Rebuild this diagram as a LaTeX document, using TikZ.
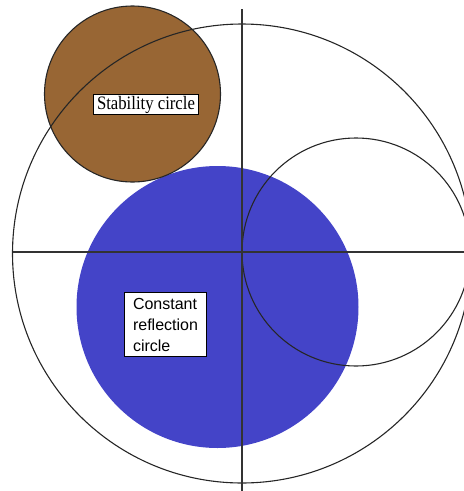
\documentclass[tikz,border=0pt]{standalone}
\usepackage{fontspec}
\setmainfont{Liberation Serif}
\newfontfamily\arialfont{Liberation Sans}
\newfontfamily\narrowserif[FakeStretch=0.88]{Liberation Serif}
\definecolor{stabbrown}{RGB}{152,102,52}
\definecolor{reflblue}{RGB}{68,68,200}
\tikzset{
  axisline/.style={draw=black!80, line width=1.2pt},
  circline/.style={draw=black!85, line width=1.1pt},
  labelbox/.style={draw=black, fill=white, line width=1pt},
}
\begin{document}
\begin{tikzpicture}[x=1pt,y=-1pt]
\useasboundingbox (0,0) rectangle (464,491);
% fills
\fill[reflblue] (217.5,307) circle (141);
\filldraw[fill=stabbrown, circline] (132.5,94) circle (88);
% big circle and axes
\draw[circline] (242,253.5) circle (229.5);
\draw[circline] (356,252) circle (114);
\draw[axisline] (13,252) -- (464,252);
\draw[axisline] (242,9) -- (242,491);
% labels
\node[labelbox, font=\narrowserif\fontsize{19}{21}\selectfont, inner xsep=4pt, inner ysep=1.5pt] (stab) at (146,104.5) {Stability circle};
\node[labelbox, font=\arialfont\fontsize{16}{21}\selectfont, align=left, inner xsep=9pt, inner ysep=5pt] (refl) at (165.5,324.5) {Constant\\reflection\\circle};
\end{tikzpicture}
\end{document}
